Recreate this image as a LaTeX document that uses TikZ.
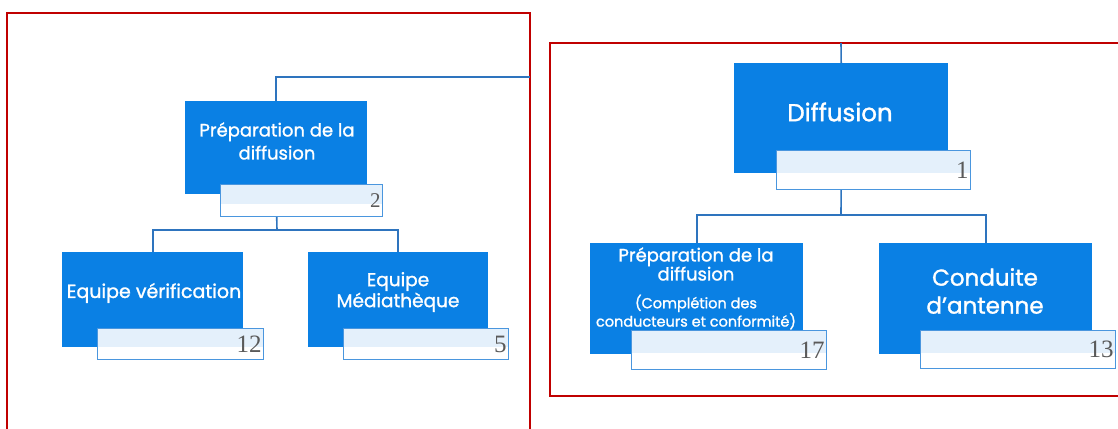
\documentclass[tikz,border=0pt]{standalone}
\usepackage{fontspec}
\setmainfont{Poppins}[FakeBold=1.3]
\newfontfamily\numfont{Liberation Serif}
\definecolor{boxblue}{HTML}{0A80E4}
\definecolor{bandblue}{HTML}{E4F0FB}
\definecolor{numedge}{HTML}{4A96DE}
\definecolor{numgray}{HTML}{5A5A5A}
\definecolor{linkblue}{HTML}{2E74BE}
\definecolor{framered}{HTML}{C00000}
\newcommand{\fs}[2]{\fontsize{#1}{#2}\selectfont}
\begin{document}
\begin{tikzpicture}[x=1pt,y=-1pt,
  bluebox/.style={fill=boxblue, draw=none, anchor=north west, inner sep=0pt},
  numbox/.style={draw=numedge, line width=1.3pt, fill=white, anchor=north west,
    inner xsep=2pt, inner ysep=0pt, align=right, text=numgray,
    font=\numfont\fontsize{25}{25}\selectfont,
    path picture={\fill[bandblue] (path picture bounding box.north west)
      rectangle ([yshift=-3pt]path picture bounding box.east);}},
  lbl/.style={text=white, align=center, inner sep=0pt},
  link/.style={draw=linkblue, line width=1.6pt},
  frameline/.style={draw=framered, line width=1.8pt}]
\useasboundingbox (0,0) rectangle (1118,428);

% red frames
\draw[frameline] (7,432) -- (7,13) -- (530,13) -- (530,432);
\draw[frameline] (1122,43) -- (550,43) -- (550,396) -- (1122,396);

% coloured boxes
\node[bluebox, minimum width=182pt, minimum height=93pt] (prepL) at (185,101) {};
\node[bluebox, minimum width=181pt, minimum height=95pt] (verif) at (62,252) {};
\node[bluebox, minimum width=180pt, minimum height=95pt] (media) at (308,252) {};
\node[bluebox, minimum width=214pt, minimum height=110pt] (diff) at (734,63) {};
\node[bluebox, minimum width=213pt, minimum height=111pt] (prepR) at (590,243) {};
\node[bluebox, minimum width=213pt, minimum height=111pt] (cond) at (879,243) {};

% junctions and loose ends
\coordinate (topL) at (530,77);
\coordinate (topR) at (841,43);
\coordinate (jL) at (277,230);
\coordinate (jR) at (841,215);

% connectors
\draw[link] (prepL.north) |- (topL);
\draw[link] (prepL.south) -- (jL);
\draw[link] (jL) -| (verif.north);
\draw[link] (jL) -| (media.north);
\draw[link] (topR) -- (diff.north);
\draw[link] (diff.south) -- (jR);
\draw[link] (jR) -| (prepR.north);
\draw[link] (jR) -| (cond.north);

% count boxes
\node[numbox, text width=158pt, minimum height=32pt,
      font=\numfont\fontsize{21}{21}\selectfont] (prepLn) at (220,184) {2};
\node[numbox, text width=162pt, minimum height=31pt] (verifn) at (97,328) {12};
\node[numbox, text width=161pt, minimum height=31pt] (median) at (343,328) {5};
\node[numbox, text width=190pt, minimum height=39pt] (diffn) at (776,150) {1};
\node[numbox, text width=191pt, minimum height=39pt] (prepRn) at (631,330) {17};
\node[numbox, text width=191pt, minimum height=38pt] (condn) at (920,330) {13};

% labels
\node[lbl, font=\fs{18}{23}] (tPrepL) at (277,141) {Préparation de la\\diffusion};
\node[lbl, font=\fs{19}{22}] (tVerif) at (154,293) {Equipe vérification};
\node[lbl, font=\fs{18.5}{21}] (tMedia) at (398,292) {Equipe\\Médiathèque};
\node[lbl, font=\fs{24.5}{28}] (tDiff) at (840,112) {Diffusion};
\node[lbl, font=\fs{18}{19}] (tPrepR) at (696,264) {Préparation de la\\diffusion};
\node[lbl, font=\fs{14.5}{15}] (tPrepR2) at (696,312) {(Complétion des\\conducteurs et conformité)};
\node[lbl, font=\fs{23}{28}] (tCond) at (985,291) {Conduite\\d’antenne};
\end{tikzpicture}
\end{document}
